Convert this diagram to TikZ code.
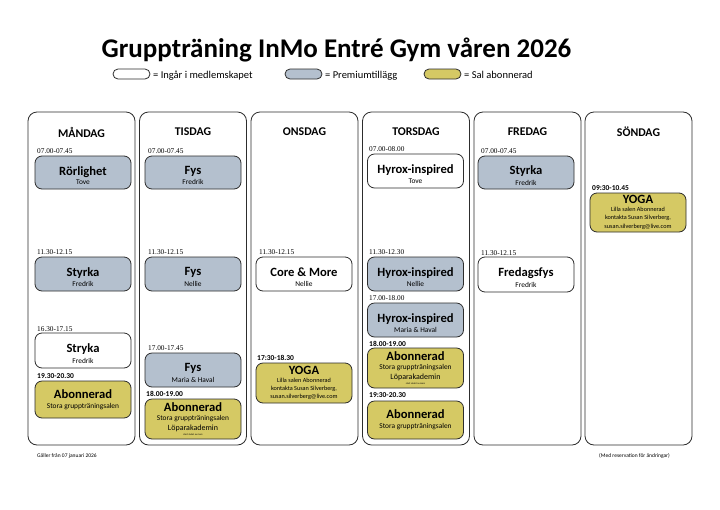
\documentclass[tikz,border=0pt]{standalone}
\usepackage{fontspec}
\setmainfont{Carlito}
\newfontfamily\timesf{Liberation Serif}
\definecolor{prem}{RGB}{180,192,206}
\definecolor{sal}{RGB}{213,201,100}
\definecolor{edge}{RGB}{45,45,45}
\newcommand\clsname[1]{{\fontsize{12.6}{12.6}\selectfont\bfseries #1}}
\newcommand\instr[1]{{\fontsize{7.4}{7.5}\selectfont #1}}
\newcommand\tinyline[1]{{\fontsize{6.2}{6.5}\selectfont #1}}
% #1 node name, #2 style, #3 x, #4 y, #5 height, #6 class, #7 instructor
\newcommand\twoline[7]{%
  \node[#2,minimum height=#5pt] (#1) at (#3,#4) {};
  \node[clstext] (#1txt) at ([yshift=-3pt]#1.center) {\clsname{#6}\\[2.5pt]\instr{#7}};}
\begin{document}
\begin{tikzpicture}[x=1pt,y=-1pt,
  colbox/.style={draw=edge,line width=0.8pt,rounded corners=9pt},
  cls/.style={draw=edge,line width=0.8pt,rounded corners=7pt,minimum width=96pt,inner sep=0pt,align=center,font=\fontsize{6}{7}\selectfont},
  clstext/.style={align=center,inner sep=0pt,font=\fontsize{6}{7}\selectfont},
  free/.style={cls,fill=white},
  premium/.style={cls,fill=prem},
  salbox/.style={cls,fill=sal},
  tm/.style={anchor=base west,inner sep=0pt,font=\timesf\fontsize{7.3}{8}\selectfont},
  tmb/.style={anchor=base west,inner sep=0pt,font=\fontsize{7.5}{8}\selectfont\bfseries},
  day/.style={font=\fontsize{11.8}{12}\selectfont\bfseries,inner sep=0pt},
  pill/.style={draw=edge,line width=0.8pt,rounded corners=5pt,minimum width=37pt,minimum height=10pt,inner sep=0pt},
  legtext/.style={anchor=base west,inner sep=0pt,font=\fontsize{10.5}{11}\selectfont}
]
\useasboundingbox (0,0) rectangle (720,509);
\fill[white] (0,0) rectangle (720,509);
% title
\node[font=\fontsize{27}{29}\selectfont\bfseries,inner sep=0pt] (title) at (336.5,50) {Gruppträning InMo Entré Gym våren 2026};
% legend
\node[pill,fill=white] (lg1) at (131.5,74) {};
\node[legtext] (lt1) at (153,78) {= Ingår i medlemskapet};
\node[pill,fill=prem] (lg2) at (303.5,74) {};
\node[legtext] (lt2) at (325,78) {= Premiumtillägg};
\node[pill,fill=sal] (lg3) at (442.5,74) {};
\node[legtext] (lt3) at (464,78) {= Sal abonnerad};
% columns
\draw[colbox] (28,112) rectangle (135,445);
\draw[colbox] (139.5,112) rectangle (246.5,445);
\draw[colbox] (251,112) rectangle (358,445);
\draw[colbox] (362.5,112) rectangle (469.5,445);
\draw[colbox] (474,112) rectangle (581,445);
\draw[colbox] (585,112) rectangle (692,445);
\node[day] (d1) at (81.5,132) {MÅNDAG};
\node[day] (d2) at (193,132) {TISDAG};
\node[day] (d3) at (304.5,132) {ONSDAG};
\node[day] (d4) at (416,132) {TORSDAG};
\node[day] (d5) at (527.5,132) {FREDAG};
\node[day] (d6) at (638.5,132) {SÖNDAG};
% Monday
\node[tm] (m1t) at (37,153) {07.00-07.45};
\twoline{m1}{premium}{83}{172.5}{33}{Rörlighet}{Tove}
\node[tm] (m2t) at (37,254) {11.30-12.15};
\twoline{m2}{premium}{83}{274}{34}{Styrka}{Fredrik}
\node[tm] (m3t) at (37,331) {16.30-17.15};
\twoline{m3}{free}{83}{350.5}{35}{Stryka}{Fredrik}
\node[tmb] (m4t) at (37,378.5) {19.30-20.30};
\node[salbox,minimum height=37pt] (m4) at (83,399.5) {\clsname{Abonnerad}\\[3pt]\instr{Stora gruppträningsalen}};
% Tuesday
\node[tm] (t1t) at (148,153) {07.00-07.45};
\twoline{t1}{premium}{193}{172.5}{33}{Fys}{Fredrik}
\node[tm] (t2t) at (148,254) {11.30-12.15};
\twoline{t2}{premium}{193}{274}{34}{Fys}{Nellie}
\node[tm] (t3t) at (148,350.5) {17.00-17.45};
\twoline{t3}{premium}{193}{370}{34}{Fys}{Maria \& Haval}
\node[tmb] (t4t) at (146,396.5) {18.00-19.00};
\node[salbox,minimum height=40pt] (t4) at (193,419) {\clsname{Abonnerad}\\[2pt]\instr{Stora gruppträningsalen}\\[2.5pt]{\fontsize{8}{9}\selectfont Löparakademin}\\[-2pt]{\fontsize{2.5}{3}\selectfont start slutet av mars}};
% Wednesday
\node[tm] (o1t) at (259,254) {11.30-12.15};
\twoline{o1}{free}{304}{274}{34}{Core \& More}{Nellie}
\node[tmb] (o2t) at (257,360.5) {17:30-18.30};
\node[salbox,minimum height=40pt] (o2) at (304,383) {\clsname{YOGA}\\[1pt]\tinyline{Lilla salen Abonnerad}\\[1pt]\tinyline{kontakta Susan Silverberg,}\\[1.5pt]\tinyline{susan.silverberg@live.com}};
% Thursday
\node[tm] (h1t) at (369,151) {07.00-08.00};
\twoline{h1}{free}{415.5}{171}{34}{Hyrox-inspired}{Tove}
\node[tm] (h2t) at (369,254) {11.30-12.30};
\twoline{h2}{premium}{415.5}{274}{34}{Hyrox-inspired}{Nellie}
\node[tm] (h3t) at (369,300.5) {17.00-18.00};
\twoline{h3}{premium}{415.5}{320}{34}{Hyrox-inspired}{Maria \& Haval}
\node[tmb] (h4t) at (369,346.5) {18.00-19.00};
\node[salbox,minimum height=40pt] (h4) at (415.5,368) {\clsname{Abonnerad}\\[2pt]\instr{Stora gruppträningsalen}\\[2.5pt]{\fontsize{8}{9}\selectfont Löparakademin}\\[-2pt]{\fontsize{2.5}{3}\selectfont start slutet av mars}};
\node[tmb] (h5t) at (369,397.5) {19:30-20.30};
\node[salbox,minimum height=38pt] (h5) at (415.5,420) {\clsname{Abonnerad}\\[3pt]\instr{Stora gruppträningsalen}};
% Friday
\node[tm] (f1t) at (481,153) {07.00-07.45};
\twoline{f1}{premium}{526}{172.5}{33}{Styrka}{Fredrik}
\node[tm] (f2t) at (481,255.5) {11.30-12.15};
\twoline{f2}{free}{526}{274.5}{35}{Fredagsfys}{Fredrik}
% Sunday
\node[tmb] (s1t) at (592,190.5) {09:30-10.45};
\node[salbox,minimum height=39pt] (s1) at (638,212.5) {\clsname{YOGA}\\[1pt]\tinyline{Lilla salen Abonnerad}\\[1pt]\tinyline{kontakta Susan Silverberg,}\\[1.5pt]\tinyline{susan.silverberg@live.com}};
% footer
\node[anchor=west,inner sep=0pt,font=\fontsize{5.5}{6}\selectfont] (foot1) at (37,456) {Gäller från 07 januari 2026};
\node[anchor=west,inner sep=0pt,font=\fontsize{5.5}{6}\selectfont] (foot2) at (599,456) {(Med reservation för ändringar)};
\end{tikzpicture}
\end{document}
